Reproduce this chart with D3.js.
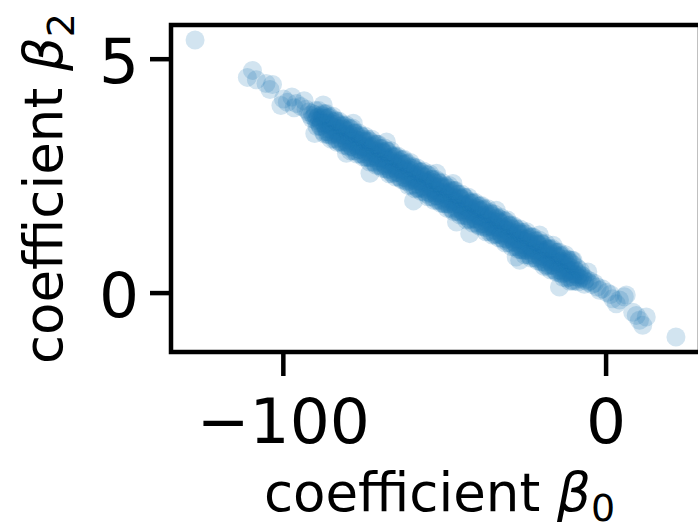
<!DOCTYPE html>
<html>
<head>
<meta charset="utf-8">
<script src="https://cdn.jsdelivr.net/npm/d3@7"></script>
<style>
  body { margin: 0; background: #fff; }
  svg { display: block; font-family: "DejaVu Sans", sans-serif; }
</style>
</head>
<body>
<div id="chart"></div>
<script>
// axis setup
const xDomain = [-134.65, 29.25];
const yDomain = [-1.27, 5.72];
const xTicks = [-100, 0];
const xTickLabels = ["\u2212100", "0"];
const yTicks = [0, 5];
const yTickLabels = ["0", "5"];

// posterior draws [beta0, beta2], estimated from the cloud
const tailDraws = [
  [-127.2, 5.40], [-111.0, 4.60], [-109.4, 4.75], [-108.2, 4.55], [-105.2, 4.47],
  [-103.2, 4.45], [-104.0, 4.34], [-100.6, 4.00], [-99.8, 4.14], [-98.6, 4.07],
  [-97.2, 4.18], [-96.5, 3.95], [-95.8, 4.04], [-94.4, 3.98], [-93.4, 4.10], [-92.8, 3.92],
  [-3.5, 0.20], [-2.6, 0.12], [-1.9, 0.05], [-1.0, 0.08], [0.4, 0.00], [1.5, -0.04],
  [2.2, -0.13], [3.3, -0.24], [4.3, -0.16], [5.8, -0.09], [6.4, -0.05], [8.4, -0.42],
  [9.5, -0.49], [10.5, -0.59], [11.5, -0.70], [12.6, -0.52], [21.8, -0.95]
];

const strayDraws = [
  [-90.1, 3.40], [-87.5, 4.01], [-80.3, 2.98], [-78.2, 3.62], [-73.0, 2.55],
  [-67.9, 3.22], [-59.5, 1.96], [-52.4, 2.55], [-47.3, 2.33], [-46.2, 1.51],
  [-42.1, 1.26], [-33.9, 1.76], [-27.7, 0.76], [-26.6, 0.69], [-20.5, 1.23],
  [-16.3, 1.01], [-14.3, 0.12], [-10.1, 0.69], [-5.5, 0.44]
];

const coreDraws = [
  [-92.0, 3.86], [-91.5, 3.79],
  [-91.0, 3.72], [-90.8, 3.83], [-90.4, 3.76],
  [-90.0, 3.80], [-89.7, 3.68], [-89.4, 3.73],
  [-89.0, 3.76], [-88.8, 3.62], [-88.5, 3.69], [-88.3, 3.56],
  [-88.0, 3.62], [-87.8, 3.74], [-87.5, 3.63], [-87.3, 3.77],
  [-87.0, 3.73], [-86.8, 3.58], [-86.5, 3.50], [-86.3, 3.62],
  [-86.0, 3.44], [-85.8, 3.59], [-85.5, 3.63], [-85.3, 3.49],
  [-85.0, 3.55], [-84.8, 3.37], [-84.5, 3.56], [-84.3, 3.60],
  [-84.0, 3.41], [-83.8, 3.65], [-83.5, 3.44], [-83.3, 3.46],
  [-83.0, 3.51], [-82.8, 3.37], [-82.5, 3.44], [-82.3, 3.31],
  [-82.0, 3.37], [-81.8, 3.49], [-81.5, 3.38], [-81.3, 3.52],
  [-81.0, 3.49], [-80.8, 3.34], [-80.5, 3.26], [-80.3, 3.38],
  [-80.0, 3.20], [-79.8, 3.35], [-79.5, 3.39], [-79.3, 3.25],
  [-79.0, 3.30], [-78.8, 3.12], [-78.5, 3.31], [-78.3, 3.35],
  [-78.0, 3.16], [-77.8, 3.40], [-77.5, 3.19], [-77.3, 3.21],
  [-77.0, 3.26], [-76.8, 3.12], [-76.5, 3.19], [-76.3, 3.06],
  [-76.0, 3.12], [-75.8, 3.24], [-75.5, 3.13], [-75.3, 3.27],
  [-75.0, 3.24], [-74.8, 3.09], [-74.5, 3.01], [-74.3, 3.13],
  [-74.0, 2.95], [-73.8, 3.10], [-73.5, 3.14], [-73.3, 3.00],
  [-73.0, 3.06], [-72.8, 2.88], [-72.5, 3.07], [-72.3, 3.11],
  [-72.0, 2.92], [-71.8, 3.16], [-71.5, 2.95], [-71.3, 2.97],
  [-71.0, 3.02], [-70.8, 2.88], [-70.5, 2.95], [-70.3, 2.82],
  [-70.0, 2.87], [-69.8, 2.99], [-69.5, 2.88], [-69.3, 3.02],
  [-69.0, 2.99], [-68.8, 2.84], [-68.5, 2.76], [-68.3, 2.88],
  [-68.0, 2.70], [-67.8, 2.85], [-67.5, 2.89], [-67.3, 2.75],
  [-67.0, 2.81], [-66.8, 2.63], [-66.5, 2.82], [-66.3, 2.86],
  [-66.0, 2.67], [-65.8, 2.91], [-65.5, 2.70], [-65.3, 2.72],
  [-65.0, 2.77], [-64.8, 2.63], [-64.5, 2.70], [-64.3, 2.57],
  [-64.0, 2.63], [-63.8, 2.75], [-63.5, 2.64], [-63.3, 2.78],
  [-63.0, 2.75], [-62.8, 2.60], [-62.5, 2.52], [-62.3, 2.64],
  [-62.0, 2.45], [-61.8, 2.60], [-61.5, 2.64], [-61.3, 2.50],
  [-61.0, 2.56], [-60.8, 2.38], [-60.5, 2.57], [-60.3, 2.61],
  [-60.0, 2.42], [-59.8, 2.66], [-59.5, 2.45], [-59.3, 2.47],
  [-59.0, 2.52], [-58.8, 2.38], [-58.5, 2.45], [-58.3, 2.32],
  [-58.0, 2.38], [-57.8, 2.50], [-57.5, 2.39], [-57.3, 2.53],
  [-57.0, 2.50], [-56.8, 2.35], [-56.5, 2.27], [-56.3, 2.39],
  [-56.0, 2.21], [-55.8, 2.36], [-55.5, 2.40], [-55.3, 2.26],
  [-55.0, 2.32], [-54.8, 2.14], [-54.5, 2.33], [-54.3, 2.37],
  [-54.0, 2.17], [-53.8, 2.41], [-53.5, 2.20], [-53.3, 2.22],
  [-53.0, 2.27], [-52.8, 2.13], [-52.5, 2.20], [-52.3, 2.07],
  [-52.0, 2.13], [-51.8, 2.25], [-51.5, 2.14], [-51.3, 2.28],
  [-51.0, 2.25], [-50.8, 2.10], [-50.5, 2.02], [-50.3, 2.14],
  [-50.0, 1.96], [-49.8, 2.11], [-49.5, 2.15], [-49.3, 2.01],
  [-49.0, 2.07], [-48.8, 1.89], [-48.5, 2.08], [-48.3, 2.12],
  [-48.0, 1.93], [-47.8, 2.17], [-47.5, 1.96], [-47.3, 1.98],
  [-47.0, 2.03], [-46.8, 1.89], [-46.5, 1.96], [-46.3, 1.83],
  [-46.0, 1.89], [-45.8, 2.01], [-45.5, 1.90], [-45.3, 2.04],
  [-45.0, 2.00], [-44.8, 1.85], [-44.5, 1.77], [-44.3, 1.89],
  [-44.0, 1.71], [-43.8, 1.86], [-43.5, 1.90], [-43.3, 1.76],
  [-43.0, 1.82], [-42.8, 1.64], [-42.5, 1.83], [-42.3, 1.87],
  [-42.0, 1.68], [-41.8, 1.92], [-41.5, 1.71], [-41.3, 1.73],
  [-41.0, 1.78], [-40.8, 1.64], [-40.5, 1.71], [-40.3, 1.58],
  [-40.0, 1.64], [-39.8, 1.76], [-39.5, 1.65], [-39.3, 1.79],
  [-39.0, 1.76], [-38.8, 1.61], [-38.5, 1.53], [-38.3, 1.65],
  [-38.0, 1.47], [-37.8, 1.62], [-37.5, 1.66], [-37.3, 1.52],
  [-37.0, 1.57], [-36.8, 1.39], [-36.5, 1.58], [-36.3, 1.62],
  [-36.0, 1.43], [-35.8, 1.67], [-35.5, 1.46], [-35.3, 1.48],
  [-35.0, 1.53], [-34.8, 1.39], [-34.5, 1.46], [-34.3, 1.33],
  [-34.0, 1.39], [-33.8, 1.51], [-33.5, 1.40], [-33.3, 1.54],
  [-33.0, 1.51], [-32.8, 1.36], [-32.5, 1.28], [-32.3, 1.40],
  [-32.0, 1.22], [-31.8, 1.37], [-31.5, 1.41], [-31.3, 1.27],
  [-31.0, 1.33], [-30.8, 1.15], [-30.5, 1.34], [-30.3, 1.38],
  [-30.0, 1.19], [-29.8, 1.43], [-29.5, 1.22], [-29.3, 1.24],
  [-29.0, 1.28], [-28.8, 1.14], [-28.5, 1.21], [-28.3, 1.08],
  [-28.0, 1.14], [-27.8, 1.26], [-27.5, 1.15], [-27.3, 1.29],
  [-27.0, 1.26], [-26.8, 1.11], [-26.5, 1.03], [-26.3, 1.15],
  [-26.0, 0.97], [-25.8, 1.12], [-25.5, 1.16], [-25.3, 1.02],
  [-25.0, 1.08], [-24.8, 0.90], [-24.5, 1.09], [-24.3, 1.13],
  [-24.0, 0.94], [-23.8, 1.18], [-23.5, 0.97], [-23.3, 0.99],
  [-23.0, 1.04], [-22.8, 0.90], [-22.5, 0.97], [-22.3, 0.84],
  [-22.0, 0.90], [-21.8, 1.02], [-21.5, 0.91], [-21.3, 1.05],
  [-21.0, 1.02], [-20.8, 0.87], [-20.5, 0.79], [-20.3, 0.91],
  [-20.0, 0.72], [-19.8, 0.87], [-19.5, 0.91], [-19.3, 0.77],
  [-19.0, 0.83], [-18.8, 0.65], [-18.5, 0.84], [-18.3, 0.88],
  [-18.0, 0.69], [-17.8, 0.93], [-17.5, 0.72], [-17.3, 0.74],
  [-17.0, 0.79], [-16.8, 0.65], [-16.5, 0.72], [-16.3, 0.59],
  [-16.0, 0.65], [-15.8, 0.77], [-15.5, 0.66], [-15.3, 0.80],
  [-15.0, 0.77], [-14.8, 0.62], [-14.5, 0.54], [-14.3, 0.66],
  [-14.0, 0.48], [-13.8, 0.63], [-13.5, 0.67], [-13.3, 0.53],
  [-13.0, 0.59], [-12.8, 0.41], [-12.5, 0.60], [-12.3, 0.64],
  [-12.0, 0.44], [-11.8, 0.68], [-11.5, 0.47], [-11.3, 0.49],
  [-11.0, 0.54], [-10.8, 0.40], [-10.5, 0.47], [-10.3, 0.34],
  [-10.0, 0.40], [-9.7, 0.49], [-9.4, 0.39],
  [-9.0, 0.45], [-8.7, 0.34], [-8.3, 0.38],
  [-8.0, 0.30], [-7.6, 0.38], [-7.2, 0.31],
  [-7.0, 0.35], [-6.5, 0.26],
  [-6.0, 0.29], [-5.4, 0.22],
  [-4.8, 0.25], [-4.2, 0.17]
];

// draws along the upper and lower edge of the band
const edgeDraws = [
  [-89.9, 3.89], [-89.4, 3.55], [-88.9, 3.89], [-88.4, 3.55], [-87.9, 3.79], [-87.4, 3.43],
  [-86.9, 3.82], [-86.4, 3.44], [-85.9, 3.74], [-85.4, 3.36], [-84.9, 3.67], [-84.4, 3.39],
  [-83.9, 3.69], [-83.4, 3.29], [-82.9, 3.61], [-82.4, 3.23], [-81.9, 3.56], [-81.4, 3.22],
  [-80.9, 3.56], [-80.4, 3.22], [-79.9, 3.46], [-79.4, 3.10], [-78.9, 3.49], [-78.4, 3.11],
  [-77.9, 3.41], [-77.4, 3.03], [-76.9, 3.34], [-76.4, 3.06], [-75.9, 3.36], [-75.4, 2.96],
  [-74.9, 3.28], [-74.4, 2.90], [-73.9, 3.23], [-73.4, 2.89], [-72.9, 3.23], [-72.4, 2.89],
  [-71.9, 3.13], [-71.4, 2.77], [-70.9, 3.17], [-70.4, 2.79], [-69.9, 3.08], [-69.4, 2.70],
  [-68.9, 3.01], [-68.4, 2.73], [-67.9, 3.03], [-67.4, 2.63], [-66.9, 2.95], [-66.4, 2.57],
  [-65.9, 2.90], [-65.4, 2.56], [-64.9, 2.90], [-64.4, 2.56], [-63.9, 2.80], [-63.4, 2.44],
  [-62.9, 2.84], [-62.4, 2.46], [-61.9, 2.75], [-61.4, 2.37], [-60.9, 2.68], [-60.4, 2.40],
  [-59.9, 2.70], [-59.4, 2.30], [-58.9, 2.62], [-58.4, 2.24], [-57.9, 2.57], [-57.4, 2.23],
  [-56.9, 2.57], [-56.4, 2.23], [-55.9, 2.47], [-55.4, 2.11], [-54.9, 2.51], [-54.4, 2.13],
  [-53.9, 2.42], [-53.4, 2.04], [-52.9, 2.35], [-52.4, 2.07], [-51.9, 2.37], [-51.4, 1.97],
  [-50.9, 2.29], [-50.4, 1.91], [-49.9, 2.24], [-49.4, 1.90], [-48.9, 2.24], [-48.4, 1.90],
  [-47.9, 2.14], [-47.4, 1.78], [-46.9, 2.18], [-46.4, 1.80], [-45.9, 2.10], [-45.4, 1.72],
  [-44.9, 2.02], [-44.4, 1.74], [-43.9, 2.04], [-43.4, 1.64], [-42.9, 1.96], [-42.4, 1.58],
  [-41.9, 1.91], [-41.4, 1.57], [-40.9, 1.91], [-40.4, 1.57], [-39.9, 1.81], [-39.4, 1.45],
  [-38.9, 1.85], [-38.4, 1.47], [-37.9, 1.77], [-37.4, 1.39], [-36.9, 1.69], [-36.4, 1.41],
  [-35.9, 1.71], [-35.4, 1.31], [-34.9, 1.63], [-34.4, 1.25], [-33.9, 1.58], [-33.4, 1.24],
  [-32.9, 1.58], [-32.4, 1.24], [-31.9, 1.48], [-31.4, 1.12], [-30.9, 1.52], [-30.4, 1.14],
  [-29.9, 1.44], [-29.4, 1.06], [-28.9, 1.36], [-28.4, 1.08], [-27.9, 1.38], [-27.4, 0.98],
  [-26.9, 1.30], [-26.4, 0.92], [-25.9, 1.25], [-25.4, 0.91], [-24.9, 1.25], [-24.4, 0.91],
  [-23.9, 1.15], [-23.4, 0.79], [-22.9, 1.19], [-22.4, 0.81], [-21.9, 1.11], [-21.4, 0.73],
  [-20.9, 1.04], [-20.4, 0.76], [-19.9, 1.05], [-19.4, 0.65], [-18.9, 0.97], [-18.4, 0.59],
  [-17.9, 0.92], [-17.4, 0.58], [-16.9, 0.92], [-16.4, 0.58], [-15.9, 0.82], [-15.4, 0.46],
  [-14.9, 0.86], [-14.4, 0.48], [-13.9, 0.78], [-13.4, 0.40], [-12.9, 0.71], [-12.4, 0.43],
  [-11.9, 0.72], [-11.4, 0.32], [-10.9, 0.64], [-10.4, 0.26], [-9.9, 0.59], [-9.4, 0.25],
  [-8.9, 0.53], [-8.4, 0.23], [-7.9, 0.48], [-6.6, 0.18]
];

// outermost draws that widen the band's soft edge
const outerDraws = [
  [-87.5, 3.83], [-87.1, 3.39], [-86.5, 3.83], [-86.1, 3.38], [-85.5, 3.76], [-85.1, 3.28],
  [-84.5, 3.77], [-84.1, 3.28], [-83.5, 3.67], [-83.1, 3.21], [-82.5, 3.66], [-82.1, 3.21],
  [-81.5, 3.58], [-81.1, 3.15], [-80.5, 3.59], [-80.1, 3.14], [-79.5, 3.52], [-79.1, 3.03],
  [-78.5, 3.52], [-78.1, 3.03], [-77.5, 3.42], [-77.1, 2.96], [-76.5, 3.41], [-76.1, 2.96],
  [-75.5, 3.33], [-75.1, 2.90], [-74.5, 3.34], [-74.1, 2.89], [-73.5, 3.27], [-73.1, 2.79],
  [-72.5, 3.28], [-72.1, 2.79], [-71.5, 3.18], [-71.1, 2.72], [-70.5, 3.17], [-70.1, 2.71],
  [-69.5, 3.08], [-69.1, 2.65], [-68.5, 3.09], [-68.1, 2.64], [-67.5, 3.02], [-67.1, 2.54],
  [-66.5, 3.03], [-66.1, 2.54], [-65.5, 2.93], [-65.1, 2.47], [-64.5, 2.92], [-64.1, 2.47],
  [-63.5, 2.84], [-63.1, 2.41], [-62.5, 2.85], [-62.1, 2.39], [-61.5, 2.77], [-61.1, 2.29],
  [-60.5, 2.78], [-60.1, 2.29], [-59.5, 2.68], [-59.1, 2.22], [-58.5, 2.67], [-58.1, 2.22],
  [-57.5, 2.59], [-57.1, 2.16], [-56.5, 2.60], [-56.1, 2.15], [-55.5, 2.53], [-55.1, 2.05],
  [-54.5, 2.54], [-54.1, 2.04], [-53.5, 2.43], [-53.1, 1.97], [-52.5, 2.42], [-52.1, 1.97],
  [-51.5, 2.34], [-51.1, 1.91], [-50.5, 2.35], [-50.1, 1.90], [-49.5, 2.28], [-49.1, 1.80],
  [-48.5, 2.29], [-48.1, 1.80], [-47.5, 2.19], [-47.1, 1.73], [-46.5, 2.18], [-46.1, 1.73],
  [-45.5, 2.10], [-45.1, 1.66], [-44.5, 2.10], [-44.1, 1.65], [-43.5, 2.03], [-43.1, 1.55],
  [-42.5, 2.04], [-42.1, 1.55], [-41.5, 1.94], [-41.1, 1.48], [-40.5, 1.93], [-40.1, 1.48],
  [-39.5, 1.85], [-39.1, 1.42], [-38.5, 1.86], [-38.1, 1.41], [-37.5, 1.79], [-37.1, 1.30],
  [-36.5, 1.79], [-36.1, 1.30], [-35.5, 1.69], [-35.1, 1.23], [-34.5, 1.68], [-34.1, 1.23],
  [-33.5, 1.60], [-33.1, 1.17], [-32.5, 1.61], [-32.1, 1.16], [-31.5, 1.54], [-31.1, 1.06],
  [-30.5, 1.55], [-30.1, 1.06], [-29.5, 1.45], [-29.1, 0.98], [-28.5, 1.43], [-28.1, 0.98],
  [-27.5, 1.35], [-27.1, 0.92], [-26.5, 1.36], [-26.1, 0.91], [-25.5, 1.29], [-25.1, 0.81],
  [-24.5, 1.30], [-24.1, 0.81], [-23.5, 1.20], [-23.1, 0.74], [-22.5, 1.19], [-22.1, 0.74],
  [-21.5, 1.11], [-21.1, 0.68], [-20.5, 1.12], [-20.1, 0.66], [-19.5, 1.04], [-19.1, 0.56],
  [-18.5, 1.05], [-18.1, 0.56], [-17.5, 0.95], [-17.1, 0.49], [-16.5, 0.94], [-16.1, 0.49],
  [-15.5, 0.86], [-15.1, 0.43], [-14.5, 0.87], [-14.1, 0.42], [-13.5, 0.80], [-13.1, 0.32],
  [-12.5, 0.81], [-12.1, 0.31], [-11.5, 0.70], [-11.1, 0.24], [-10.5, 0.69], [-10.1, 0.24]
];

const width = 698, height = 529;
const margin = { top: 25, right: -2, bottom: 177, left: 171 };
const w = width - margin.left - margin.right;
const h = height - margin.top - margin.bottom;
const blue = "#1f77b4";

const svg = d3.select("#chart").append("svg")
  .attr("width", width)
  .attr("height", height);

svg.append("defs").append("clipPath").attr("id", "plot-clip")
  .append("rect").attr("width", w).attr("height", h);

const g = svg.append("g")
  .attr("transform", `translate(${margin.left},${margin.top})`);

const x = d3.scaleLinear().domain(xDomain).range([0, w]);
const y = d3.scaleLinear().domain(yDomain).range([h, 0]);

const allDraws = coreDraws.concat(edgeDraws, outerDraws, strayDraws, tailDraws);

g.append("g").attr("clip-path", "url(#plot-clip)")
  .selectAll("circle")
  .data(allDraws)
  .join("circle")
  .attr("cx", d => x(d[0]))
  .attr("cy", d => y(d[1]))
  .attr("r", 9.5)
  .attr("fill", blue)
  .attr("fill-opacity", 0.2);

// axes
const xAxis = g.append("g")
  .attr("transform", `translate(0,${h})`)
  .call(d3.axisBottom(x).tickValues(xTicks)
    .tickFormat((d, i) => xTickLabels[i]).tickSize(24).tickPadding(22));

const yAxis = g.append("g")
  .call(d3.axisLeft(y).tickValues(yTicks)
    .tickFormat((d, i) => yTickLabels[i]).tickSize(21).tickPadding(11));

[xAxis, yAxis].forEach(ax => {
  ax.select(".domain").remove();
  ax.selectAll(".tick line").attr("stroke", "#000").attr("stroke-width", 4.5);
  ax.selectAll(".tick text")
    .attr("fill", "#000")
    .style("font-family", "'DejaVu Sans', sans-serif")
    .style("font-size", "63px");
});
yAxis.selectAll(".tick text").attr("dy", "0.38em");

// frame
g.append("rect")
  .attr("width", w)
  .attr("height", h)
  .attr("fill", "none")
  .attr("stroke", "#000")
  .attr("stroke-width", 4.5);

// axis labels
const xLabel = svg.append("text")
  .attr("x", margin.left + w / 2 + 4)
  .attr("y", 511)
  .attr("text-anchor", "middle")
  .style("font-size", "53px")
  .attr("fill", "#000");
xLabel.append("tspan").text("coefficient ");
xLabel.append("tspan").attr("font-style", "italic").text("\u03b2");
xLabel.append("tspan").attr("font-size", "38px").attr("dy", 10).text("0");

const yLabel = svg.append("text")
  .attr("transform", `translate(62,${margin.top + h / 2}) rotate(-90)`)
  .attr("text-anchor", "middle")
  .style("font-size", "53px")
  .attr("fill", "#000");
yLabel.append("tspan").text("coefficient ");
yLabel.append("tspan").attr("font-style", "italic").text("\u03b2");
yLabel.append("tspan").attr("font-size", "38px").attr("dy", 12).text("2");
</script>
</body>
</html>
